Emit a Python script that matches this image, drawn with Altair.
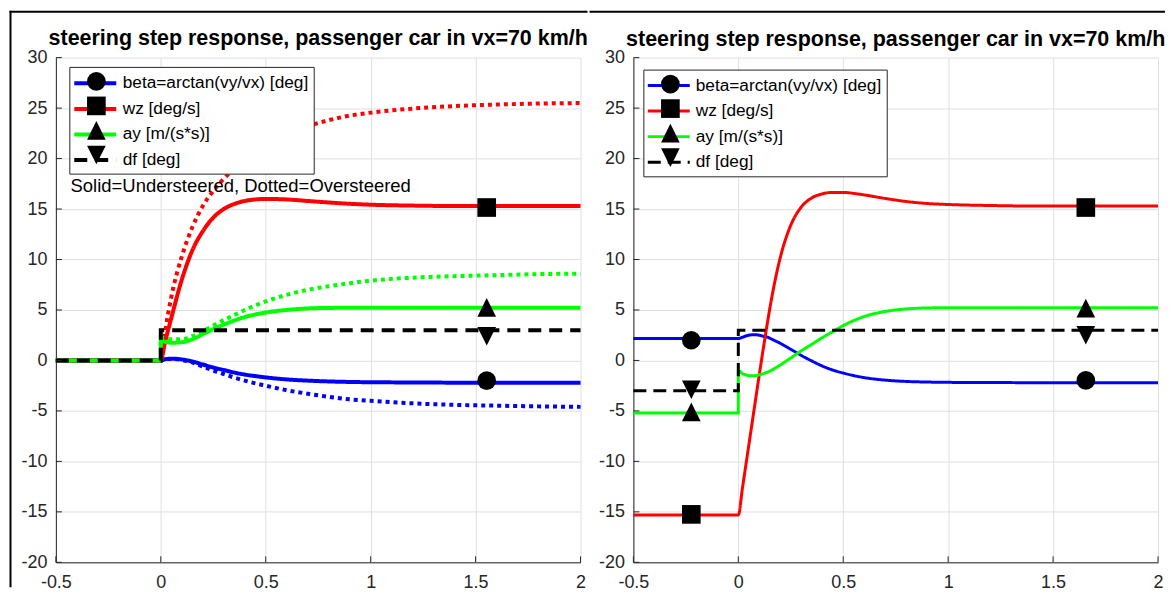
import altair as alt
import pandas as pd

FONT = "Liberation Sans"
LABELS = ["beta=arctan(vy/vx) [deg]", "wz [deg/s]", "ay [m/(s*s)]", "df [deg]"]
COLORS = ["#0000ff", "#ff0000", "#00ff00", "#000000"]
SHAPES = ["circle", "square", "M0,-1L1,1L-1,1Z", "M0,1L1,-1L-1,-1Z"]
LINE_SYMBOL = "M-2.25,0L2.25,0"
X_TICKS = [-0.5, 0, 0.5, 1, 1.5, 2]
Y_TICKS = [-20, -15, -10, -5, 0, 5, 10, 15, 20, 25, 30]
TITLE = "steering step response, passenger car in vx=70 km/h"
NOTE = "Solid=Understeered, Dotted=Oversteered"
NOTE_T = [-0.43]
NOTE_Y = [17.3]

# ---------------- left panel (understeered solid / oversteered dotted) -------------
PRE_T = [-0.5, 0.0]
L_T = [0, 0.02, 0.05, 0.1, 0.15, 0.2, 0.25, 0.3, 0.35, 0.4, 0.45, 0.5, 0.6, 0.7, 0.8,
       0.9, 1.0, 1.2, 1.4, 1.6, 1.8, 2.0]
L_PRE = [0.0, 0.0]
L_BETA_US = [0, 0.12, 0.18, 0.1, -0.1, -0.4, -0.7, -0.95, -1.2, -1.4, -1.55, -1.68,
             -1.88, -2.0, -2.08, -2.13, -2.16, -2.18, -2.2, -2.2, -2.2, -2.2]
L_WZ_US = [0, 1.8, 4.2, 8.0, 10.9, 12.8, 14.15, 15.0, 15.5, 15.8, 15.95, 16.0, 15.95,
           15.8, 15.65, 15.52, 15.43, 15.34, 15.3, 15.3, 15.3, 15.3]
L_AY_US = [2.0, 1.85, 1.75, 1.8, 2.1, 2.6, 3.1, 3.55, 3.95, 4.3, 4.55, 4.75, 5.0, 5.15,
           5.2, 5.22, 5.22, 5.22, 5.22, 5.22, 5.22, 5.22]
L_BETA_OS = [0, 0.12, 0.15, 0.05, -0.2, -0.6, -1.0, -1.35, -1.7, -2.0, -2.27, -2.5,
             -2.95, -3.3, -3.6, -3.85, -4.0, -4.25, -4.4, -4.48, -4.55, -4.6]
L_WZ_OS = [0, 2.8, 6.3, 10.3, 13.2, 15.3, 16.8, 18.0, 19.0, 19.9, 20.65, 21.3, 22.4,
           23.2, 23.8, 24.25, 24.55, 24.95, 25.2, 25.35, 25.45, 25.5]
L_AY_OS = [2.3, 2.2, 2.1, 2.1, 2.4, 2.9, 3.45, 4.0, 4.5, 5.0, 5.45, 5.85, 6.5, 7.0,
           7.35, 7.65, 7.9, 8.2, 8.35, 8.45, 8.55, 8.6]
L_DF_T = [-0.5, 0.0, 0.0, 2.0]
L_DF = [0, 0, 3, 3]
L_MK_T = [1.553, 1.553, 1.553, 1.553]
L_MK_Y = [-2.0, 15.15, 5.25, 2.4]

# ---------------- right panel -------------
R_T = [0, 0.02, 0.04, 0.06, 0.08, 0.1, 0.12, 0.14, 0.16, 0.18, 0.2, 0.25, 0.3, 0.35,
       0.4, 0.45, 0.5, 0.55, 0.6, 0.7, 0.8, 0.9, 1.0, 1.2, 1.4, 1.6, 1.8, 2.0]
R_BETA_PRE = [2.17, 2.17]
R_WZ_PRE = [-15.3, -15.3]
R_AY_PRE = [-5.2, -5.2]
R_BETA = [2.17, 2.3, 2.45, 2.53, 2.55, 2.5, 2.4, 2.3, 2.1, 1.9, 1.7, 1.1, 0.5, -0.05,
          -0.55, -0.95, -1.25, -1.5, -1.7, -1.95, -2.08, -2.14, -2.17, -2.19, -2.2,
          -2.2, -2.2, -2.2]
R_WZ = [-15.3, -12.6, -9.8, -7.0, -4.2, -1.4, 1.3, 3.9, 6.3, 8.4, 10.2, 13.4, 15.2,
        16.1, 16.5, 16.65, 16.65, 16.55, 16.4, 16.05, 15.75, 15.55, 15.45, 15.35,
        15.3, 15.3, 15.3, 15.3]
R_AY = [-1.0, -1.3, -1.45, -1.52, -1.5, -1.42, -1.3, -1.15, -0.95, -0.7, -0.45, 0.25,
        0.95, 1.6, 2.25, 2.85, 3.45, 3.95, 4.35, 4.85, 5.1, 5.2, 5.22, 5.22, 5.22,
        5.22, 5.22, 5.22]
R_DF_T = [-0.5, 0.0, 0.0, 2.0]
R_DF = [-3, -3, 3, 3]
R_MK_T = [-0.224, -0.224, -0.224, -0.224, 1.656, 1.656, 1.656, 1.656]
R_MK_Y = [2.0, -15.25, -5.1, -2.9, -1.98, 15.15, 5.19, 2.5]

W, H = 526, 506


def lines_frame(items, suffix):
    rows = []
    for name, ts, ys in items:
        for i, (tt, yy) in enumerate(zip(ts, ys)):
            rows.append({"series": name + suffix, "t": tt, "y": yy, "i": i})
    return pd.DataFrame(rows)


def markers_frame(ts, ys, prefix):
    names = [prefix + str(k % 4) for k in range(len(ts))]
    return pd.DataFrame({"mk": names, "t": ts, "y": ys})


XS = alt.Scale(domain=[-0.5, 2], nice=False, zero=False)
YS = alt.Scale(domain=[-20, 30], nice=False, zero=False)
XAX = alt.Axis(values=X_TICKS, labelExpr="'' + datum.value", grid=True, ticks=False,
               title=None, labelFlush=False, labelOverlap=False, labelPadding=11)
YAX = alt.Axis(values=Y_TICKS, labelExpr="'' + datum.value", grid=True, ticks=False,
               title=None, labelFlush=False, labelOverlap=False, labelPadding=9)
ONE = pd.DataFrame({"k": [0]})


def panel(solid_df, dotted_df, mk_df, lw, dash, lx, ly, suffix, prefix, frame,
          note=False):
    dom = [l + suffix for l in LABELS]
    mdom = [prefix + str(k) for k in range(4)]
    leg1 = alt.Legend(title=None, orient="none", legendX=lx, legendY=ly,
                      symbolType=LINE_SYMBOL, symbolSize=350, symbolStrokeWidth=lw,
                      symbolOffset=9.5, labelOffset=16,
                      labelFontSize=17.3, labelFont=FONT, labelColor="black",
                      labelExpr="trim(datum.label)",
                      labelLimit=0, fillColor="white", strokeColor="#262626",
                      padding=5, rowPadding=5.6, zindex=1)
    leg2 = alt.Legend(title=None, orient="none", legendX=lx + 11.6, legendY=ly - 1,
                      symbolSize=350, symbolFillColor="black",
                      symbolStrokeColor="black", symbolStrokeWidth=0,
                      labelExpr="''", labelFontSize=17.3, labelFont=FONT,
                      padding=6, rowPadding=5.6, zindex=2)
    cscale = alt.Scale(domain=dom, range=COLORS)
    dscale = alt.Scale(domain=dom, range=[[1, 0], [1, 0], [1, 0], dash])
    layers = []
    # figure frame (decoration)
    fx0, fx1, fleft = frame
    layers.append(alt.Chart(ONE).mark_rule(color="black", strokeWidth=2).encode(
        x=alt.value(fx0), x2=alt.value(fx1), y=alt.value(-46)))
    if fleft:
        layers.append(alt.Chart(ONE).mark_rule(color="black", strokeWidth=2).encode(
            x=alt.value(fx0 + 1), y=alt.value(-47), y2=alt.value(H + 25)))
    if dotted_df is not None:
        for k in range(3):
            sub = dotted_df[dotted_df["series"] == dom[k]]
            layers.append(
                alt.Chart(sub).mark_line(strokeWidth=lw, strokeDash=[4, 4],
                                         strokeCap="butt", interpolate="monotone",
                                         color=COLORS[k])
                .encode(x=alt.X("t:Q", scale=XS, axis=XAX),
                        y=alt.Y("y:Q", scale=YS, axis=YAX),
                        order="i:Q"))
    layers.append(
        alt.Chart(solid_df).mark_line(strokeWidth=lw, strokeCap="butt",
                                      interpolate="monotone")
        .encode(x=alt.X("t:Q", scale=XS, axis=XAX),
                y=alt.Y("y:Q", scale=YS, axis=YAX),
                color=alt.Color("series:N", scale=cscale, legend=leg1),
                strokeDash=alt.StrokeDash("series:N", scale=dscale, legend=leg1),
                order="i:Q"))
    layers.append(
        alt.Chart(pd.DataFrame({"t": X_TICKS})).mark_rule(color="#262626", strokeWidth=1)
        .encode(x=alt.X("t:Q", scale=XS, axis=XAX), y=alt.value(H), y2=alt.value(H - 6)))
    layers.append(
        alt.Chart(pd.DataFrame({"v": Y_TICKS})).mark_rule(color="#262626", strokeWidth=1)
        .encode(y=alt.Y("v:Q", scale=YS, axis=YAX), x=alt.value(0), x2=alt.value(6)))
    layers.append(
        alt.Chart(mk_df).mark_point(filled=True, color="black", opacity=1, size=350)
        .encode(x=alt.X("t:Q", scale=XS, axis=XAX),
                y=alt.Y("y:Q", scale=YS, axis=YAX),
                shape=alt.Shape("mk:N", scale=alt.Scale(domain=mdom, range=SHAPES),
                                legend=leg2)))
    if note:
        layers.append(
            alt.Chart(pd.DataFrame({"t": NOTE_T, "y": NOTE_Y, "txt": [NOTE]}))
            .mark_text(align="left", baseline="middle", fontSize=18.5, font=FONT,
                       color="black")
            .encode(x=alt.X("t:Q", scale=XS, axis=XAX),
                    y=alt.Y("y:Q", scale=YS, axis=YAX), text="txt:N"))
    return alt.layer(*layers).properties(
        width=W, height=H,
        title=alt.TitleParams(TITLE, fontSize=21.5, fontWeight="bold", font=FONT,
                              color="black", anchor="middle", offset=-40,
                              frame="group"))


left_solid = lines_frame([
    (LABELS[0], PRE_T + L_T, L_PRE + L_BETA_US),
    (LABELS[1], PRE_T + L_T, L_PRE + L_WZ_US),
    (LABELS[2], PRE_T + L_T, L_PRE + L_AY_US),
    (LABELS[3], L_DF_T, L_DF),
], "")
left_dotted = lines_frame([
    (LABELS[0], PRE_T + L_T, L_PRE + L_BETA_OS),
    (LABELS[1], PRE_T + L_T, L_PRE + L_WZ_OS),
    (LABELS[2], PRE_T + L_T, L_PRE + L_AY_OS),
], "")
right_solid = lines_frame([
    (LABELS[0], PRE_T + R_T, R_BETA_PRE + R_BETA),
    (LABELS[1], PRE_T + R_T, R_WZ_PRE + R_WZ),
    (LABELS[2], PRE_T + R_T, R_AY_PRE + R_AY),
    (LABELS[3], R_DF_T, R_DF),
], " ")

left = panel(left_solid, left_dotted, markers_frame(L_MK_T, L_MK_Y, "L"), 4, [13, 8],
             13.5, 9.3, "", "L", (-46.5, W + 7, True), note=True)
right = panel(right_solid, None, markers_frame(R_MK_T, R_MK_Y, "R"), 3, [13, 7],
              10, 12, " ", "R", (-44, W + 7, False))

chart = alt.hconcat(left, right, spacing=0).resolve_scale(
    color="independent", shape="independent", strokeDash="independent"
).resolve_legend(color="independent", shape="independent", strokeDash="independent"
).properties(
    padding={"left": 0, "top": 1, "right": 0, "bottom": 0},
    background="white",
).configure_view(stroke=None).configure_axis(
    labelFont=FONT, labelFontSize=18, labelColor="#262626",
    domainColor="#262626", domainWidth=1, gridColor="#dfdfdf", gridWidth=1,
)

chart.save("out.html", embed_options={"renderer": "svg", "actions": False})
